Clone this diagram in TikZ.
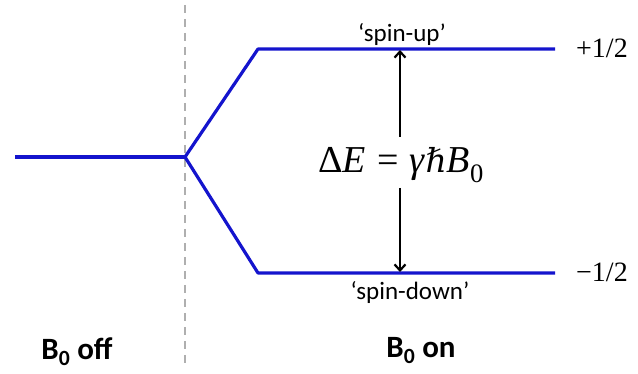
\documentclass[tikz,border=0pt]{standalone}
\usepackage{fontspec}
\setmainfont{Liberation Serif}
\newfontfamily\carlitofont{Carlito}
\newfontfamily\hbarfont{DejaVu Serif}
\usetikzlibrary{arrows.meta}
\definecolor{lvlblue}{RGB}{20,20,205}
\definecolor{dashgray}{RGB}{175,175,175}
\newcommand{\myhbar}{{\hbarfont\itshape\fontsize{33}{34}\selectfont ℏ}}
\begin{document}
\begin{tikzpicture}[x=1pt,y=-1pt,
  level/.style={draw=lvlblue,line width=3.2pt},
  divider/.style={draw=dashgray,line width=2.6pt,dash pattern=on 8pt off 6pt},
  gap/.style={draw=black,line width=2.2pt,-{Straight Barb[length=6pt,width=11pt,line width=2.2pt]}},
  lab/.style={font=\carlitofont\fontsize{25}{28}\selectfont,inner sep=0pt,anchor=base},
  big/.style={font=\carlitofont\bfseries\fontsize{31}{34}\selectfont,inner sep=0pt,anchor=base},
  num/.style={font=\fontsize{28}{30}\selectfont,inner sep=0pt,anchor=base west}]
\useasboundingbox (0,0) rectangle (638,374);
\coordinate (top) at (185,5);
\coordinate (bot) at (185,363);
\draw[divider] (top) -- (bot);
\coordinate (L) at (15,157);
\coordinate (S) at (185,157);
\coordinate (U1) at (258,49);
\coordinate (U2) at (555,49);
\coordinate (D1) at (258,273);
\coordinate (D2) at (555,273);
\draw[level] (L) -- (S);
\draw[level,line join=round] (U2) -- (U1) -- (S) -- (D1) -- (D2);
\node[inner sep=0pt,anchor=base,font=\fontsize{38}{40}\selectfont] (eq) at (401,173) {Δ\textit{E}\hspace{0.3em}=\hspace{0.3em}\textit{γ}\myhbar\textit{B}\textsubscript{0}};
\coordinate (s1) at (400,137);
\coordinate (s2) at (400,188);
\coordinate (au) at (400,50);
\coordinate (ad) at (400,272);
\draw[gap] (s1) -- (au);
\draw[gap] (s2) -- (ad);
\node[lab] (su) at (402,42) {‘spin-up’};
\node[lab] (sd) at (410,300) {‘spin-down’};
\node[num] (p) at (576,58) {+1/2};
\node[num] (m) at (576,282) {−1/2};
\node[big] (off) at (77,360) {B\textsubscript{0} off};
\node[big] (on) at (421,358) {B\textsubscript{0} on};
\end{tikzpicture}
\end{document}
